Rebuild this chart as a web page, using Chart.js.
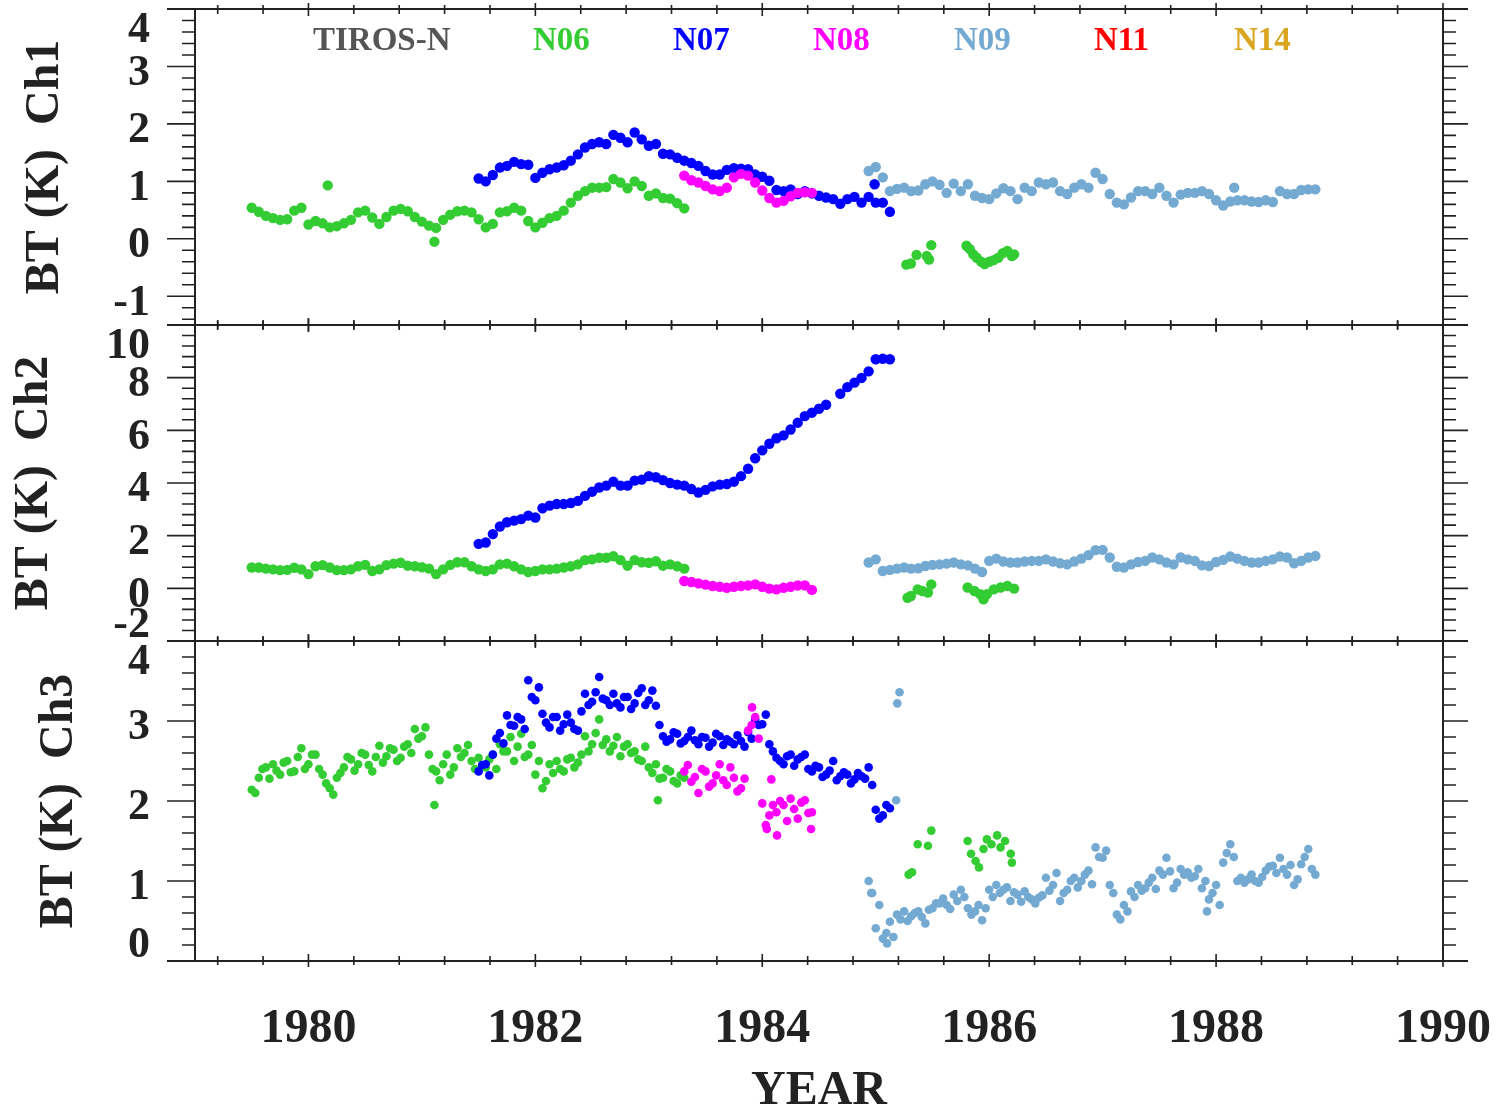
<!DOCTYPE html>
<html>
<head>
<meta charset="utf-8">
<script src="https://cdn.jsdelivr.net/npm/chart.js@4.4.0/dist/chart.umd.min.js"></script>
<style>
html,body{margin:0;padding:0;background:#ffffff;}
#wrap{position:relative;width:1501px;height:1111px;overflow:hidden;}
#wrap canvas{position:absolute;left:0;top:0;}
</style>
</head>
<body>
<div id="wrap">
<canvas id="c1" width="1501" height="1111"></canvas>
<canvas id="c2" width="1501" height="1111"></canvas>
<canvas id="c3" width="1501" height="1111"></canvas>
</div>
<script>
// ---------------- DATA ----------------
const STEP = 1/16;               // sampling interval of the regular series (years)
const HALF = 1/32;               // offset of the second (interleaved) sample set
const yearMin = 1979, yearMax = 1990;
const xMajorTicks = [1980, 1982, 1984, 1986, 1988, 1990];
const xTickLabels = ['1980', '1982', '1984', '1986', '1988', '1990'];
const ch1Ticks = [-1, 0, 1, 2, 3, 4];
const ch2Ticks = [-2, 0, 2, 4, 6, 8, 10];
const ch3Ticks = [0, 1, 2, 3, 4];
const legendNames = ['TIROS-N', 'N06', 'N07', 'N08', 'N09', 'N11', 'N14'];
const legendColors = ['#555555', '#33cc33', '#0000ff', '#ff00ff', '#74aad2', '#ff0000', '#daa520'];

// ---- Ch1 ----
const ch1_n06_start = 1979.5;
const ch1_n06 = [0.54,0.47,0.40,0.36,0.33,0.34,0.49,0.54,0.25,0.31,0.27,0.20,0.22,0.27,0.33,0.46,0.49,0.37,0.26,0.38,
  0.49,0.52,0.48,0.38,0.30,0.23,0.19,0.33,0.42,0.48,0.49,0.46,0.34,0.20,0.26,0.46,0.48,0.54,0.49,0.31,
  0.20,0.28,0.36,0.40,0.49,0.63,0.75,0.83,0.89,0.89,0.90,1.04,0.98,0.88,1.00,0.92,0.75,0.79,0.71,0.70,0.62,0.53];
const ch1_n06_extraYears = [1980.17, 1981.11];
const ch1_n06_extraVals = [0.93, -0.05];
const ch1_n06b_years = [1985.27,1985.31,1985.36,1985.45,1985.47,1985.49,1985.80,1985.83,1985.86,1985.89,1985.93,1985.96,1986.00,1986.04,1986.08,1986.12,1986.16,1986.20,1986.22];
const ch1_n06b_vals = [-0.45,-0.43,-0.28,-0.30,-0.36,-0.11,-0.12,-0.18,-0.27,-0.33,-0.40,-0.44,-0.40,-0.37,-0.33,-0.25,-0.21,-0.30,-0.27];
const ch1_n07_start = 1981.5;
const ch1_n07 = [1.05,1.00,1.11,1.24,1.27,1.34,1.30,1.29,1.06,1.15,1.21,1.24,1.28,1.36,1.47,1.59,1.65,1.68,1.65,1.81,
  1.76,1.68,1.85,1.73,1.62,1.65,1.48,1.47,1.41,1.36,1.32,1.27,1.18,1.12,1.12,1.20,1.23,1.22,1.21,1.12,
  1.08,1.01,0.85,0.83,0.86,0.78,0.83,0.79,0.75,0.72,0.69,0.61,0.69,0.73,0.63,0.73,0.63,0.63,0.47];
const ch1_n07_extraYears = [1984.99];
const ch1_n07_extraVals = [0.95];
const ch1_n08_start = 1983.3125;
const ch1_n08 = [1.10,1.02,0.98,0.92,0.86,0.83,0.89,1.07,1.13,1.10,0.98,0.84,0.71,0.63,0.66,0.74,0.80,0.81,0.80];
const ch1_n09_start = 1984.9375;
const ch1_n09 = [1.18,1.25,1.07,0.83,0.87,0.89,0.83,0.84,0.95,1.00,0.94,0.80,0.96,0.83,0.95,0.75,0.71,0.69,0.79,0.88,
  0.83,0.69,0.89,0.83,0.98,0.95,0.98,0.83,0.78,0.89,0.95,0.89,1.15,1.04,0.78,0.63,0.60,0.72,0.83,0.83,
  0.78,0.89,0.75,0.63,0.77,0.80,0.80,0.83,0.78,0.67,0.58,0.65,0.67,0.67,0.65,0.64,0.67,0.64,0.83,0.78,
  0.78,0.85,0.86,0.86];
const ch1_n09_extraYears = [1988.16];
const ch1_n09_extraVals = [0.89];

// ---- Ch2 ----
const ch2_n06_start = 1979.5;
const ch2_n06 = [0.79,0.79,0.75,0.72,0.69,0.70,0.78,0.72,0.54,0.84,0.88,0.79,0.69,0.69,0.72,0.84,0.89,0.66,0.72,0.88,
  0.94,0.97,0.86,0.84,0.80,0.75,0.54,0.72,0.89,0.99,0.99,0.84,0.72,0.66,0.72,0.91,0.94,0.84,0.72,0.62,
  0.66,0.72,0.72,0.75,0.79,0.84,0.91,1.07,1.10,1.16,1.16,1.22,1.07,0.86,1.07,0.99,0.97,1.03,0.86,0.91,0.84,0.75];
const ch2_n06b_years = [1985.28,1985.31,1985.37,1985.41,1985.46,1985.49,1985.81,1985.87,1985.92,1985.95,1985.98,1986.04,1986.10,1986.16,1986.22];
const ch2_n06b_vals = [-0.36,-0.29,-0.04,-0.10,-0.16,0.15,0.03,-0.10,-0.22,-0.42,-0.22,-0.04,0.03,0.09,-0.01];
const ch2_n07_start = 1981.5;
const ch2_n07 = [1.69,1.74,2.06,2.35,2.51,2.57,2.63,2.76,2.69,3.04,3.14,3.20,3.20,3.24,3.32,3.51,3.67,3.83,3.90,4.05,
  3.90,3.90,4.09,4.13,4.26,4.22,4.11,4.00,3.94,3.90,3.77,3.64,3.74,3.87,3.94,3.96,4.05,4.26,4.54,4.94,
  5.24,5.49,5.70,5.81,6.03,6.29,6.54,6.67,6.82,6.97,null,7.39,7.64,7.81,7.99,8.24,8.70,8.72,8.70];
const ch2_n08_start = 1983.3125;
const ch2_n08 = [0.28,0.24,0.19,0.14,0.09,0.06,0.02,0.06,0.09,0.11,0.15,0.06,-0.01,-0.04,0.02,0.06,0.11,0.11,-0.06];
const ch2_n09_start = 1984.9375;
const ch2_n09 = [0.98,1.10,0.66,0.70,0.75,0.79,0.75,0.76,0.85,0.89,0.91,0.94,0.98,0.91,0.87,0.75,0.62,1.04,1.13,1.02,
  0.98,0.98,1.02,1.04,1.04,1.10,1.02,0.95,0.91,1.02,1.13,1.26,1.45,1.46,1.17,0.82,0.79,0.91,1.00,1.04,
  1.17,1.10,0.98,0.91,1.17,1.10,1.04,0.87,0.85,1.00,1.08,1.21,1.13,1.04,0.98,0.98,1.04,1.10,1.21,1.17,
  0.95,1.04,1.17,1.23];

// ---- Ch3 ----  (two interleaved sample sets per satellite: "a" on the 1/16-yr grid, "b" half a step later)
const ch3_n06_start = 1979.5;
const ch3_n06 = [2.14,2.29,2.42,2.46,2.33,2.50,2.37,2.66,2.46,2.58,2.33,2.16,2.29,2.42,2.52,2.46,2.58,2.37,2.69,2.56,
  2.64,2.54,2.71,2.90,2.81,2.58,2.37,2.46,2.33,2.66,2.60,2.50,2.54,2.42,2.58,2.71,2.62,2.50,2.84,2.58,
  2.33,2.16,2.46,2.50,2.37,2.54,2.48,2.81,2.71,3.02,2.77,2.69,2.56,2.71,2.62,2.50,2.42,2.46,2.29,2.37,2.22,2.29];
const ch3_n06_b = [2.10,2.40,2.28,2.38,2.48,2.36,2.55,2.40,2.58,2.40,2.22,2.08,2.35,2.55,2.38,2.60,2.45,2.55,2.48,2.66,
  2.50,2.68,2.60,2.78,2.92,2.40,2.26,2.58,2.42,2.55,2.70,2.40,2.45,2.52,2.40,2.62,2.80,2.68,2.55,2.70,
  2.50,2.25,2.35,2.40,2.52,2.42,2.58,2.62,2.85,2.70,2.62,2.80,2.68,2.60,2.52,2.68,2.35,2.28,2.40,2.25,2.32];
const ch3_n06_extraYears = [1981.11, 1983.08];
const ch3_n06_extraVals = [1.95, 2.01];
const ch3_n06b_years = [1985.29,1985.32,1985.37,1985.46,1985.49,1985.81,1985.84,1985.88,1985.91,1985.95,1985.98,1986.02,1986.07,1986.10,1986.14,1986.19,1986.20];
const ch3_n06b_vals = [1.08,1.11,1.46,1.44,1.63,1.50,1.34,1.25,1.17,1.40,1.52,1.46,1.57,1.42,1.50,1.34,1.23];
const ch3_n07_start = 1981.5;
const ch3_n07 = [2.37,2.46,2.58,2.85,3.07,2.94,3.02,3.51,3.26,3.09,2.92,3.05,2.96,2.98,2.88,3.34,3.24,3.55,3.26,3.34,
  3.17,3.30,3.22,3.41,3.26,3.19,2.81,2.77,2.84,2.75,2.88,2.71,2.79,2.73,2.81,2.77,2.71,2.75,2.86,3.02,
  2.96,2.71,2.54,2.46,2.58,2.52,2.58,2.37,2.42,2.33,2.50,2.31,2.33,2.27,2.31,2.42,1.89,1.82,1.91];
const ch3_n07_b = [2.45,2.32,2.78,2.72,2.95,3.05,2.90,3.30,3.42,2.98,3.05,2.88,3.08,2.90,3.12,3.20,3.36,3.28,3.20,3.22,
  3.30,3.15,3.35,3.20,3.38,2.95,2.74,2.86,2.72,2.80,2.76,2.80,2.68,2.84,2.70,2.74,2.82,2.68,2.78,2.95,
  3.08,2.62,2.50,2.56,2.44,2.55,2.40,2.44,2.30,2.38,2.26,2.36,2.22,2.35,2.28,2.20,1.78,1.95];
const ch3_n08_start = 1983.3125;
const ch3_n08 = [2.37,2.24,2.10,2.37,2.22,2.46,2.20,2.29,2.16,2.88,3.05,1.97,1.82,1.86,1.95,2.03,1.78,2.01,1.86];
const ch3_n08_b = [2.45,2.30,2.40,2.18,2.32,2.26,2.42,2.12,2.28,2.95,2.78,1.70,1.95,2.00,1.75,1.90,1.98,1.85];
const ch3_n08_extraYears = [1983.91, 1984.04, 1984.13, 1984.43, 1984.08];
const ch3_n08_extraVals = [3.17, 1.65, 1.57, 1.65, 2.27];
const ch3_n09_start = 1984.9375;
const ch3_n09 = [1.00,0.41,0.28,0.49,0.58,0.62,0.56,0.62,0.47,0.66,0.72,0.70,0.83,0.89,0.66,0.62,0.51,0.89,0.95,0.89,
  0.75,0.83,0.87,0.77,0.79,1.04,0.95,0.75,0.89,1.04,1.00,1.13,1.42,1.29,0.95,0.58,0.70,0.87,0.95,0.91,
  1.04,1.13,1.29,0.91,1.15,1.11,1.06,0.91,0.77,0.95,1.23,1.46,1.00,0.98,1.08,0.98,1.13,1.19,1.29,1.08,
  0.95,1.21,1.40,1.08];
const ch3_n09_b = [0.85,0.70,0.35,0.30,0.52,0.50,0.60,0.55,0.64,0.72,0.78,0.65,0.75,0.80,0.58,0.70,0.66,0.80,0.85,0.92,
  0.86,0.74,0.80,0.72,0.82,0.88,1.10,0.85,1.00,0.92,1.08,0.96,1.30,1.38,0.85,0.52,0.62,0.80,0.88,0.98,
  0.90,1.08,1.12,0.98,1.08,1.04,1.15,1.00,0.85,0.70,1.35,1.30,1.04,1.02,1.00,1.05,1.18,1.10,1.15,1.20,
  1.02,1.30,1.15];
const ch3_n09_extraYears = [1985.21, 1985.19, 1985.18, 1984.96, 1985.10, 1987.92];
const ch3_n09_extraVals = [3.36, 3.22, 2.01, 0.85, 0.22, 0.62];

// ---------------- STYLE ----------------
const SERIF = '"Liberation Serif", "Times New Roman", serif';
const INK = '#222222';
const C_N06 = legendColors[1], C_N07 = legendColors[2], C_N08 = legendColors[3], C_N09 = legendColors[4];

function seq(start, vals) {
  const out = [];
  vals.forEach((v, i) => { if (v !== null) out.push({x: start + i * STEP, y: v}); });
  return out;
}
function pairs(years, vals) { return years.map((t, i) => ({x: t, y: vals[i]})); }
function ds(label, data, color, order, r) {
  return {label, data, order, showLine: false,
    pointBackgroundColor: color, pointBorderWidth: 0, pointRadius: r, pointHoverRadius: r};
}

const framePlugin = {
  id: 'panelFrame',
  afterDraw(chart, args, o) {
    const ctx = chart.ctx, ca = chart.chartArea;
    const xs = chart.scales.x, ys = chart.scales.y;
    ctx.save();
    ctx.strokeStyle = INK;
    ctx.lineWidth = 2;
    ctx.beginPath();
    ctx.moveTo(ca.left - 28, ca.top); ctx.lineTo(ca.right + 25, ca.top);
    ctx.moveTo(ca.left - 28, ca.bottom); ctx.lineTo(ca.right + 25, ca.bottom);
    ctx.moveTo(ca.left, ca.top); ctx.lineTo(ca.left, ca.bottom);
    ctx.moveTo(ca.right, ca.top); ctx.lineTo(ca.right, ca.bottom);
    ctx.stroke();

    ctx.lineWidth = 1.6;
    ctx.beginPath();
    const k0 = Math.ceil(ys.min / o.yMinorStep - 1e-6), k1 = Math.floor(ys.max / o.yMinorStep + 1e-6);
    for (let k = k0; k <= k1; k++) {
      const v = k * o.yMinorStep;
      if (Math.abs(v - ys.min) < 1e-6 || Math.abs(v - ys.max) < 1e-6) continue;
      const py = ys.getPixelForValue(v);
      const major = o.yMajor.some(m => Math.abs(m - v) < 1e-6);
      ctx.moveTo(ca.left - (major ? 28 : 13), py); ctx.lineTo(ca.left, py);
      ctx.moveTo(ca.right, py); ctx.lineTo(ca.right + (major ? 25 : 13), py);
    }
    const xStep = 0.4;
    const j0 = Math.ceil(yearMin / xStep - 1e-6), j1 = Math.floor(yearMax / xStep + 1e-6);
    for (let j = j0; j <= j1; j++) {
      const v = j * xStep;
      const major = xMajorTicks.some(m => Math.abs(m - v) < 1e-6);
      const px = xs.getPixelForValue(v);
      const a = major ? 7 : 5;
      ctx.moveTo(px, ca.top - a + 1); ctx.lineTo(px, ca.top + a);
      ctx.moveTo(px, ca.bottom - a); ctx.lineTo(px, ca.bottom + a - 1);
    }
    ctx.stroke();

    ctx.fillStyle = INK;
    ctx.font = 'bold 44px ' + SERIF;
    ctx.textAlign = 'right';
    ctx.textBaseline = 'middle';
    o.yMajor.forEach(m => {
      let py = ys.getPixelForValue(m) + 7;
      py = Math.max(ca.top + 22, Math.min(ca.bottom - 15, py));
      ctx.fillText(String(m), 150, py);
    });

    if (o.legend) {
      ctx.font = 'bold 33px ' + SERIF;
      ctx.textAlign = 'left';
      ctx.textBaseline = 'alphabetic';
      const lx = [313, 533, 673, 813, 954, 1094, 1234];
      legendNames.forEach((n, i) => {
        ctx.fillStyle = legendColors[i];
        ctx.fillText(n, lx[i], 50);
      });
    }
    ctx.restore();
  }
};

function makePanel(canvasId, p) {
  const xScale = p.isBottom ? {
    type: 'linear', min: yearMin, max: yearMax, display: true,
    grid: {display: false, drawTicks: false}, border: {display: false},
    afterBuildTicks(a) { a.ticks = xMajorTicks.map(v => ({value: v})); },
    afterFit(a) { a.height = 150; a.paddingLeft = 0; a.paddingRight = 0; },
    ticks: {
      autoSkip: false, maxRotation: 0, minRotation: 0, padding: 40, color: INK,
      font: {family: SERIF, size: 48, weight: 'bold'},
      callback: (v) => { const i = xMajorTicks.indexOf(v); return i >= 0 ? xTickLabels[i] : ''; }
    },
    title: {display: true, text: 'YEAR', color: INK, padding: {top: 0, bottom: 0},
      font: {family: SERIF, size: 48, weight: 'bold', lineHeight: 0.8}}
  } : {type: 'linear', min: yearMin, max: yearMax, display: false};

  return new Chart(document.getElementById(canvasId), {
    type: 'scatter',
    data: {datasets: p.datasets},
    options: {
      responsive: false, animation: false, devicePixelRatio: 1, events: [],
      layout: {padding: {left: 0, right: 58, top: p.top, bottom: p.bottomPad}},
      plugins: {
        legend: {display: false}, tooltip: {enabled: false},
        panelFrame: {yMajor: p.yMajor, yMinorStep: p.yMinorStep, legend: !!p.legend}
      },
      scales: {
        x: xScale,
        y: {
          type: 'linear', min: p.yMin, max: p.yMax, display: true,
          ticks: {display: false}, grid: {display: false, drawTicks: false}, border: {display: false},
          afterFit(a) { a.width = 195; a.paddingTop = 0; a.paddingBottom = 0; },
          title: {display: true, text: p.title, color: INK, padding: {top: p.titlePad, bottom: 0},
            font: {family: SERIF, size: 48, weight: 'bold', lineHeight: 1.2}}
        }
      }
    },
    plugins: [framePlugin]
  });
}

const R_LINE = 5.2, R_SCAT = 4.3;
makePanel('c1', {
  top: 9, bottomPad: 786, yMin: -1.5, yMax: 4, yMajor: ch1Ticks, yMinorStep: 0.2,
  title: 'BT (K)  Ch1', titlePad: 17, legend: true,
  datasets: [
    ds('N06', seq(ch1_n06_start, ch1_n06).concat(pairs(ch1_n06_extraYears, ch1_n06_extraVals), pairs(ch1_n06b_years, ch1_n06b_vals)), C_N06, 4, R_LINE),
    ds('N07', seq(ch1_n07_start, ch1_n07).concat(pairs(ch1_n07_extraYears, ch1_n07_extraVals)), C_N07, 3, R_LINE),
    ds('N08', seq(ch1_n08_start, ch1_n08), C_N08, 2, R_LINE),
    ds('N09', seq(ch1_n09_start, ch1_n09).concat(pairs(ch1_n09_extraYears, ch1_n09_extraVals)), C_N09, 1, R_LINE)
  ]
});
makePanel('c2', {
  top: 325, bottomPad: 470, yMin: -2, yMax: 10, yMajor: ch2Ticks, yMinorStep: 0.4,
  title: 'BT (K)  Ch2', titlePad: 6,
  datasets: [
    ds('N06', seq(ch2_n06_start, ch2_n06).concat(pairs(ch2_n06b_years, ch2_n06b_vals)), C_N06, 4, R_LINE),
    ds('N07', seq(ch2_n07_start, ch2_n07), C_N07, 3, R_LINE),
    ds('N08', seq(ch2_n08_start, ch2_n08), C_N08, 2, R_LINE),
    ds('N09', seq(ch2_n09_start, ch2_n09), C_N09, 1, R_LINE)
  ]
});
makePanel('c3', {
  top: 641, bottomPad: 0, yMin: 0, yMax: 4, yMajor: ch3Ticks, yMinorStep: 0.2,
  title: 'BT (K)  Ch3', titlePad: 31, isBottom: true,
  datasets: [
    ds('N06', seq(ch3_n06_start, ch3_n06).concat(seq(ch3_n06_start + HALF, ch3_n06_b), pairs(ch3_n06_extraYears, ch3_n06_extraVals), pairs(ch3_n06b_years, ch3_n06b_vals)), C_N06, 4, R_SCAT),
    ds('N07', seq(ch3_n07_start, ch3_n07).concat(seq(ch3_n07_start + HALF, ch3_n07_b)), C_N07, 3, R_SCAT),
    ds('N08', seq(ch3_n08_start, ch3_n08).concat(seq(ch3_n08_start + HALF, ch3_n08_b), pairs(ch3_n08_extraYears, ch3_n08_extraVals)), C_N08, 2, R_SCAT),
    ds('N09', seq(ch3_n09_start, ch3_n09).concat(seq(ch3_n09_start + HALF, ch3_n09_b), pairs(ch3_n09_extraYears, ch3_n09_extraVals)), C_N09, 1, R_SCAT)
  ]
});
</script>
</body>
</html>
